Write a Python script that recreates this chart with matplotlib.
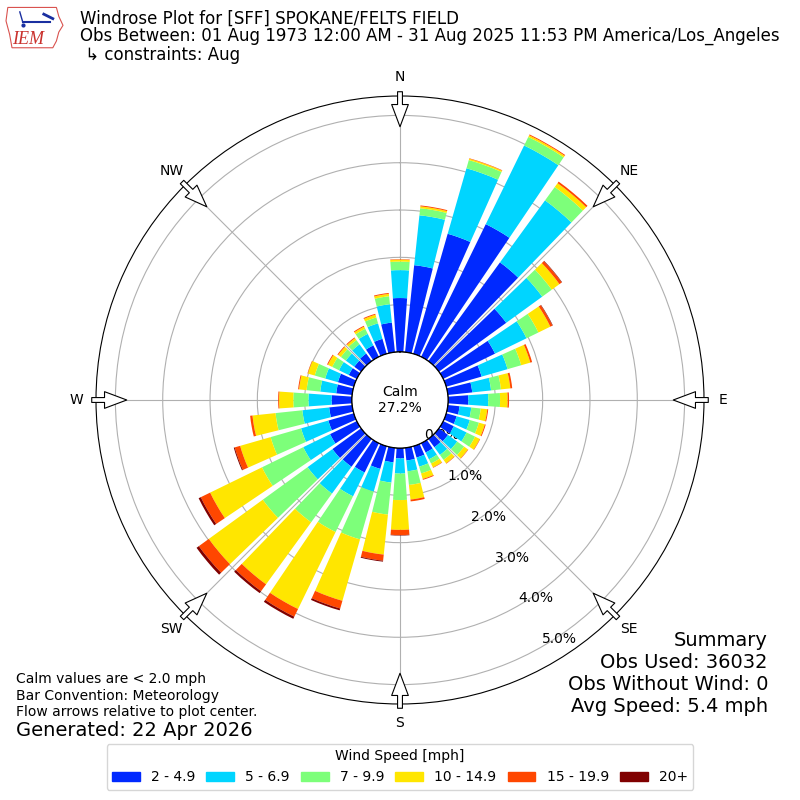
import numpy as np
import matplotlib
matplotlib.use('Agg')
import matplotlib.pyplot as plt
from matplotlib.patches import Patch, Polygon

# wind directions (deg, meteorological) and speed bins
directions = np.arange(0, 360, 10)
speed_labels = ['2 - 4.9', '5 - 6.9', '7 - 9.9', '10 - 14.9', '15 - 19.9', '20+']

# percent of all obs, per direction, one list per speed bin
pct_2_5 = [1.14, 1.85, 2.64, 3.12, 2.58, 1.76, 1.22, 0.78, 0.52, 0.43, 0.25, 0.23,
           0.25, 0.24, 0.22, 0.22, 0.25, 0.27, 0.22, 0.31, 0.50, 0.69, 0.73, 0.75,
           0.63, 0.56, 0.49, 0.43, 0.34, 0.35, 0.19, 0.18, 0.20, 0.27, 0.33, 0.63]
pct_5_7 = [0.59, 1.06, 1.44, 1.85, 1.62, 0.94, 0.74, 0.57, 0.40, 0.42, 0.25, 0.29,
           0.30, 0.24, 0.20, 0.16, 0.20, 0.23, 0.32, 0.43, 0.50, 0.56, 0.70, 0.65,
           0.63, 0.60, 0.57, 0.49, 0.34, 0.28, 0.23, 0.22, 0.24, 0.27, 0.34, 0.39]
pct_7_10 = [0.18, 0.15, 0.18, 0.20, 0.35, 0.25, 0.28, 0.30, 0.21, 0.25, 0.20, 0.20,
            0.20, 0.18, 0.13, 0.10, 0.15, 0.29, 0.56, 0.68, 1.05, 0.84, 0.75, 1.17,
            0.97, 0.67, 0.57, 0.32, 0.29, 0.23, 0.16, 0.13, 0.11, 0.12, 0.13, 0.17]
pct_10_15 = [0.04, 0.04, 0.03, 0.04, 0.10, 0.20, 0.28, 0.20, 0.20, 0.16, 0.14, 0.13,
             0.11, 0.10, 0.09, 0.09, 0.12, 0.31, 0.63, 0.85, 1.35, 1.81, 1.62, 1.41,
             1.22, 0.67, 0.49, 0.30, 0.16, 0.15, 0.10, 0.07, 0.05, 0.05, 0.06, 0.05]
pct_15_20 = [0.01, 0.02, 0.01, 0.02, 0.04, 0.06, 0.05, 0.04, 0.04, 0.03, 0.02, 0.02,
             0.01, 0.01, 0.01, 0.01, 0.02, 0.04, 0.11, 0.13, 0.17, 0.18, 0.18, 0.26,
             0.22, 0.12, 0.05, 0.02, 0.02, 0.01, 0.02, 0.02, 0.02, 0.02, 0.02, 0.02]
pct_20up = [0.00, 0.00, 0.00, 0.00, 0.00, 0.01, 0.01, 0.00, 0.00, 0.00, 0.00, 0.00,
            0.00, 0.00, 0.00, 0.00, 0.00, 0.00, 0.01, 0.02, 0.04, 0.05, 0.05, 0.06,
            0.05, 0.02, 0.00, 0.00, 0.00, 0.00, 0.00, 0.00, 0.00, 0.00, 0.00, 0.00]
calm_pct = 27.2

compass = ['N', 'NE', 'E', 'SE', 'S', 'SW', 'W', 'NW']
rticks = [0, 1, 2, 3, 4, 5]

fig = plt.figure(figsize=(8, 8), dpi=100)
ax = fig.add_axes([0.12, 0.12, 0.76, 0.76], projection='polar')
ax.set_theta_zero_location('N')
ax.set_theta_direction(-1)

colors = plt.cm.jet(np.arange(1, 7) / 6.)
theta = np.radians(directions)
bottom = np.zeros(len(directions))
handles = []
for vals, c, lab in zip([pct_2_5, pct_5_7, pct_7_10, pct_10_15, pct_15_20, pct_20up],
                        colors, speed_labels):
    vals = np.array(vals)
    ax.bar(theta, vals, width=np.radians(8), bottom=bottom, color=c,
           linewidth=0, zorder=2)
    bottom += vals
    handles.append(Patch(color=c, label=lab))

ax.set_ylim(0, 5.41)
ax.set_rorigin(-1.015)
ax.set_yticks(rticks)
ax.set_yticklabels(['%.1f%%' % v for v in rticks])
ax.set_rlabel_position(150)
ax.set_xticks(np.radians(np.arange(0, 360, 45)))
ax.set_xticklabels(compass)
ax.tick_params(axis='x', pad=3.5)
ax.grid(True, color='#b0b0b0', lw=0.8)

# calm circle
ax.plot(np.linspace(0, 2 * np.pi, 361), np.zeros(361), color='k', lw=1, zorder=3)
ax.text(0.5, 0.5, 'Calm\n%.1f%%' % calm_pct, transform=ax.transAxes,
        ha='center', va='center', fontsize=10, zorder=4)

# flow arrows
for t in np.radians(np.arange(0, 360, 45)):
    ax.annotate('', xy=(t, 4.76), xytext=(t, 5.50), xycoords='data',
                arrowprops=dict(arrowstyle='simple,head_length=1.6,head_width=1.2,tail_width=0.35',
                                fc='white', ec='k', lw=0.8, shrinkA=0, shrinkB=0),
                annotation_clip=False, zorder=5)

# header
fig.text(0.1, 0.976, 'Windrose Plot for [SFF] SPOKANE/FELTS FIELD', fontsize=12, va='center')
fig.text(0.1, 0.955, 'Obs Between: 01 Aug 1973 12:00 AM - 31 Aug 2025 11:53 PM America/Los_Angeles',
         fontsize=12, va='center')
fig.text(0.1, 0.931, ' \u21b3 constraints: Aug', fontsize=12, va='center')

# IEM logo (rough)
lax = fig.add_axes([0.006, 0.9375, 0.075, 0.056])
lax.set_xlim(0, 1)
lax.set_ylim(0, 1)
lax.axis('off')
iowa = [(0.05, 0.95), (0.86, 0.95), (0.9, 0.75), (0.97, 0.55), (0.9, 0.4),
        (0.86, 0.2), (0.8, 0.05), (0.12, 0.05), (0.08, 0.35), (0.02, 0.65)]
lax.add_patch(Polygon(iowa, closed=True, fc='none', ec='#d9534f', lw=0.8))
lax.plot([0.3, 0.75], [0.62, 0.62], color='#1a2fa0', lw=1.5)
lax.plot([0.25, 0.3], [0.85, 0.62], color='#1a2fa0', lw=1)
lax.plot([0.65, 0.8], [0.8, 0.7], color='#1a2fa0', lw=2)
lax.plot([0.3], [0.55], 'o', color='#1a2fa0', ms=2)
lax.text(0.12, 0.24, 'IEM', color='#c9302c', fontsize=13, family='Liberation Serif',
         style='italic', va='center')

# summary
fig.text(0.96, 0.2, 'Summary', ha='right', va='center', fontsize=14)
fig.text(0.96, 0.1725, 'Obs Used: 36032', ha='right', va='center', fontsize=14)
fig.text(0.96, 0.145, 'Obs Without Wind: 0', ha='right', va='center', fontsize=14)
fig.text(0.96, 0.1175, 'Avg Speed: 5.4 mph', ha='right', va='center', fontsize=14)

fig.text(0.02, 0.15125, 'Calm values are < 2.0 mph', va='center', fontsize=10)
fig.text(0.02, 0.13, 'Bar Convention: Meteorology', va='center', fontsize=10)
fig.text(0.02, 0.11, 'Flow arrows relative to plot center.', va='center', fontsize=10)
fig.text(0.02, 0.0875, 'Generated: 22 Apr 2026', va='center', fontsize=14)

fig.legend(handles=handles, loc='lower center', bbox_to_anchor=(0.5, 0.004), ncol=6,
           title='Wind Speed [mph]', fontsize=10, title_fontsize=10, columnspacing=0.8)

fig.savefig('out.png', dpi=100)
